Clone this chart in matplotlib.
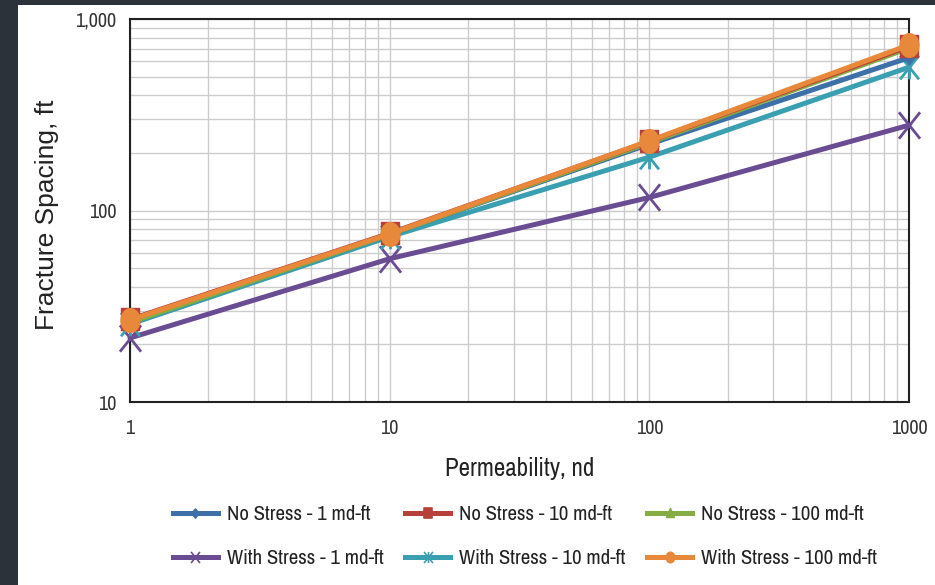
import numpy as np
import matplotlib
matplotlib.use("Agg")
from matplotlib import pyplot as plt
from matplotlib.path import Path
from matplotlib.ticker import FixedLocator, LogLocator, NullFormatter

plt.rcParams['font.family'] = ['Archivo Narrow', 'Liberation Sans', 'DejaVu Sans']

permeability = [1, 10, 100, 1000]

no_stress_1 = [26, 75, 222, 628]
no_stress_10 = [27, 76, 230, 720]
no_stress_100 = [26, 75, 226, 705]
with_stress_1 = [21.6, 56, 117, 279]
with_stress_10 = [25.5, 73, 190, 560]
with_stress_100 = [26.8, 75.5, 231, 732]

labels = ['No Stress - 1 md-ft', 'No Stress - 10 md-ft', 'No Stress - 100 md-ft',
          'With Stress - 1 md-ft', 'With Stress - 10 md-ft', 'With Stress - 100 md-ft']
series = [no_stress_1, no_stress_10, no_stress_100,
          with_stress_1, with_stress_10, with_stress_100]
colors = ['#3d6fa8', '#b8403a', '#85ad44', '#6a4c93', '#3a9fb0', '#e8883a']

# markers are a bit narrower than tall
sx = 0.8
diamond = Path([(0, 1), (sx, 0), (0, -1), (-sx, 0), (0, 1)],
               [Path.MOVETO, Path.LINETO, Path.LINETO, Path.LINETO, Path.CLOSEPOLY])
square = Path([(-sx, -1), (sx, -1), (sx, 1), (-sx, 1), (-sx, -1)],
              [Path.MOVETO, Path.LINETO, Path.LINETO, Path.LINETO, Path.CLOSEPOLY])
triangle = Path([(0, 1), (sx, -0.8), (-sx, -0.8), (0, 1)],
                [Path.MOVETO, Path.LINETO, Path.LINETO, Path.CLOSEPOLY])
cross = Path([(-sx, -1), (sx, 1), (-sx, 1), (sx, -1)],
             [Path.MOVETO, Path.LINETO, Path.MOVETO, Path.LINETO])
star = Path([(-sx, -1), (sx, 1), (-sx, 1), (sx, -1), (0, -1), (0, 1)],
            [Path.MOVETO, Path.LINETO, Path.MOVETO, Path.LINETO, Path.MOVETO, Path.LINETO])
t = np.linspace(0, 2 * np.pi, 40)
ellipse = Path(np.column_stack([sx * np.cos(t), np.sin(t)]), closed=True)

markers = [diamond, square, triangle, cross, star, ellipse]
msizes = [9, 16, 13, 19, 17, 17]
leg_sizes = [6.5, 7, 7, 8, 8, 7.5]

fig = plt.figure(figsize=(9.35, 5.85), dpi=100)
fig.patch.set_facecolor('#2b323a')
# white panel inside the dark frame
panel = fig.add_axes([18 / 935, 0, 1 - 18 / 935, 580 / 585])
panel.set_facecolor('white')
panel.set_xticks([]), panel.set_yticks([])
for s in panel.spines.values():
    s.set_visible(False)

ax = fig.add_axes([130 / 935, 1 - 402 / 585, (909 - 130) / 935, (402 - 19) / 585])
ax.set_xscale('log')
ax.set_yscale('log')
ax.set_xlim(1, 1000)
ax.set_ylim(10, 1000)

# plotting order so the orange series ends on top
order = [3, 4, 0, 2, 1, 5]
for z, i in enumerate(order):
    ax.plot(permeability, series[i], color=colors[i], lw=3.6, marker=markers[i],
            markersize=msizes[i], markeredgewidth=2 if i in (3, 4) else 1,
            markeredgecolor=colors[i], solid_capstyle='round', clip_on=False,
            zorder=3 + z)

ax.grid(True, which='both', color='#cccccc', lw=1)
ax.set_axisbelow(True)
ax.tick_params(which='both', length=0, labelsize=14.5, colors='#333333')
ax.tick_params(axis='x', pad=12)
ax.tick_params(axis='y', pad=10)
ax.xaxis.set_major_locator(FixedLocator([1, 10, 100, 1000]))
ax.set_xticklabels(['1', '10', '100', '1000'])
ax.yaxis.set_major_locator(FixedLocator([10, 100, 1000]))
ax.set_yticklabels(['10', '100', '1,000'])
ax.xaxis.set_minor_locator(LogLocator(subs=np.arange(2, 10)))
ax.yaxis.set_minor_locator(LogLocator(subs=np.arange(2, 10)))
ax.xaxis.set_minor_formatter(NullFormatter())
ax.yaxis.set_minor_formatter(NullFormatter())
for s in ax.spines.values():
    s.set_color('#222222')
    s.set_linewidth(1.5)

ax.set_xlabel('Permeability, nd', fontsize=18, color='#222222', labelpad=14)
ax.set_ylabel('Fracture Spacing, ft', fontsize=19, color='#222222',
              family=['Liberation Sans', 'DejaVu Sans'])
ax.yaxis.set_label_coords(-71 / 779, 0.49)

leg_handles = []
for i in range(6):
    h, = ax.plot([], [], color=colors[i], lw=3.6, marker=markers[i],
                 markersize=leg_sizes[i], markeredgewidth=1.2, markeredgecolor=colors[i])
    leg_handles.append(h)
# legend fills column by column, so interleave the two rows
leg_order = [0, 3, 1, 4, 2, 5]
fig.legend([leg_handles[i] for i in leg_order], [labels[i] for i in leg_order],
           ncol=3, loc='center', bbox_to_anchor=(525 / 935, 1 - 537 / 585),
           frameon=False, fontsize=15, handlelength=2.16, columnspacing=1.05,
           labelspacing=1.2, handletextpad=0.43, labelcolor='#222222')

plt.savefig('out.png', dpi=100, facecolor=fig.get_facecolor())
